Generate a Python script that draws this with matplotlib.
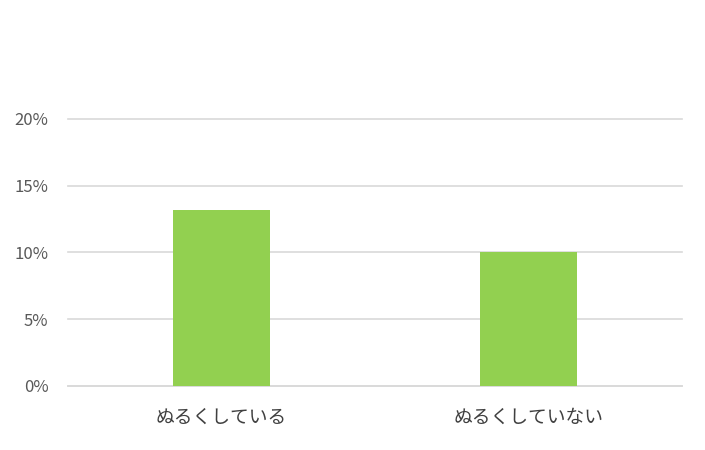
import matplotlib
matplotlib.use("Agg")
import matplotlib.pyplot as plt
from matplotlib.ticker import PercentFormatter

plt.rcParams['font.family'] = ['Noto Sans CJK JP', 'DejaVu Sans']

# data
categories = ["ぬるくしている", "ぬるくしていない"]
values = [0.132, 0.1005]
y_ticks = [0, 0.05, 0.10, 0.15, 0.20]

fig = plt.figure(figsize=(7.05, 4.5), dpi=100)
ax = fig.add_axes([68 / 705, 1 - 386 / 450, (682 - 68) / 705, (386 - 119) / 450])

x = range(len(categories))
ax.bar(x, values, width=0.313, color='#92d050', zorder=3)

ax.set_xlim(-0.5, len(categories) - 0.5)
ax.set_ylim(0, 0.2)
ax.set_yticks(y_ticks)
ax.yaxis.set_major_formatter(PercentFormatter(1.0, decimals=0))
ax.set_xticks(list(x))
ax.set_xticklabels(categories)

ax.grid(axis='y', color='#d9d9d9', linewidth=1.2, zorder=0)
for line in ax.get_ygridlines():
    line.set_clip_on(False)
for s in ['top', 'right', 'left']:
    ax.spines[s].set_visible(False)
ax.spines['bottom'].set_color('#d9d9d9')
ax.spines['bottom'].set_linewidth(1.2)
ax.tick_params(axis='both', length=0, colors='#595959')
ax.tick_params(axis='y', labelsize=12, pad=14)
ax.tick_params(axis='x', labelsize=13.5, pad=15, labelcolor='#404040')

fig.savefig("out.png", dpi=100)
